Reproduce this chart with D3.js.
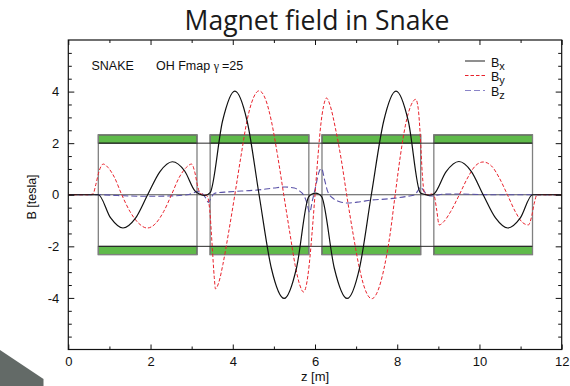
<!DOCTYPE html>
<html>
<head>
<meta charset="utf-8">
<script src="https://cdn.jsdelivr.net/npm/d3@7"></script>
<style>
  html, body { margin: 0; padding: 0; background: #fff; }
  svg { display: block; }
  text { font-family: "Liberation Sans", Arial, sans-serif; }
</style>
</head>
<body>
<svg id="chart" width="570" height="386"></svg>
<script>
// ---------------- data ----------------
const zBx = [0, 0.6, 0.73, 1.03, 1.33, 1.63, 1.93, 2.23, 2.53, 2.83, 3.08, 3.2, 3.32, 3.45, 3.75, 4.05, 4.35, 4.64, 4.94, 5.25,
             5.55, 5.84, 5.93, 6.01, 6.09, 6.17, 6.47, 6.78, 7.08, 7.37, 7.67, 7.97, 8.27, 8.56, 8.66, 8.78, 8.89, 9.19, 9.5, 9.8,
             10.09, 10.39, 10.69, 10.99, 11.29, 11.4, 12];
const bx  = [0, 0, 0, -0.9, -1.29, -0.92, 0, 0.9, 1.28, 0.92, 0.15, 0.02, -0.03, 0.08, 2.85, 4.02, 2.85, 0, -2.86, -4.02,
             -2.84, -0.1, 0.03, 0.06, 0.03, -0.1, -2.85, -4.02, -2.86, 0, 2.85, 4.02, 2.85, 0.08, 0.02, -0.02, 0.03, 0.9, 1.29, 0.91,
             0, -0.9, -1.29, -0.91, 0, 0, 0];

const zBy = [0, 0.5, 0.6, 0.67, 0.75, 0.85, 0.97, 1.12, 1.3, 1.5, 1.72, 1.92, 2.12, 2.32, 2.51, 2.7, 2.87, 3.0, 3.08, 3.15,
             3.21, 3.3, 3.38, 3.44, 3.5, 3.55, 3.58, 3.66, 3.76, 3.9, 4.05, 4.2, 4.35, 4.5, 4.64, 4.79, 4.94, 5.09, 5.24, 5.39,
             5.52, 5.63, 5.72, 5.79, 5.86, 5.93, 6.0, 6.07, 6.14, 6.21, 6.28, 6.37, 6.5, 6.64, 6.77, 6.93, 7.08, 7.23, 7.38, 7.53,
             7.68, 7.82, 7.95, 8.08, 8.2, 8.33, 8.45, 8.51, 8.56, 8.61, 8.66, 8.74, 8.83, 8.9, 8.96, 9.02, 9.14, 9.3, 9.51, 9.71,
             9.9, 10.09, 10.29, 10.48, 10.68, 10.88, 11.05, 11.19, 11.26, 11.33, 11.4, 11.5, 12];
const by  = [0, 0, 0.03, 0.4, 0.92, 1.19, 1.05, 0.68, 0, -0.65, -1.12, -1.29, -1.12, -0.65, 0, 0.68, 1.06, 1.19, 0.85, 0.3,
             0.05, 0, -0.05, -0.6, -2.0, -3.2, -3.65, -3.4, -2.7, -1.45, 0, 1.5, 2.9, 3.75, 4.03, 3.73, 2.85, 1.52, 0, -1.5,
             -2.75, -3.5, -3.77, -3.5, -2.7, -1.45, 0, 1.45, 2.7, 3.45, 3.75, 3.45, 2.55, 1.35, 0, -1.55, -2.85, -3.72, -4.03, -3.72,
             -2.85, -1.6, 0, 1.55, 2.7, 3.45, 3.7, 3.35, 2.3, 0.8, 0.08, 0, 0.03, -0.05, -0.6, -1.17, -1.03, -0.65, 0, 0.65,
             1.12, 1.27, 1.12, 0.66, 0, -0.68, -1.08, -1.17, -0.9, -0.35, 0, 0, 0];

const zBz = [0, 0.73, 1.2, 1.8, 2.4, 2.9, 3.05, 3.15, 3.25, 3.34, 3.41, 3.47, 3.56, 3.8, 4.05, 4.4, 4.71, 5.0, 5.27, 5.5,
             5.62, 5.72, 5.8, 5.87, 5.94, 6.02, 6.09, 6.16, 6.23, 6.31, 6.45, 6.6, 6.8, 7.1, 7.4, 7.7, 7.95, 8.25, 8.43, 8.5,
             8.57, 8.63, 8.7, 8.8, 8.9, 9.1, 9.5, 10.0, 10.5, 11.3, 12];
const bz  = [0, 0, -0.03, -0.06, -0.05, 0.0, 0.08, 0.12, 0.06, -0.12, -0.3, -0.12, 0.06, 0.1, 0.13, 0.16, 0.2, 0.26, 0.3, 0.26,
             0.15, 0.0, -0.3, -0.68, -0.2, 0.35, 0.85, 1.02, 0.6, 0.12, -0.15, -0.27, -0.32, -0.27, -0.2, -0.17, -0.13, -0.06, 0.0, 0.15,
             0.3, 0.18, 0.05, -0.05, -0.04, 0.02, 0.03, 0.01, 0, 0, 0];

const magnetStart = [0.73, 3.45, 6.17, 8.89];
const magnetEnd   = [3.13, 5.85, 8.57, 11.29];
const poleInner = 2.0, poleOuter = 2.32;

const xTickValues = [0, 2, 4, 6, 8, 10, 12];
const xMinorValues = [1, 3, 5, 7, 9, 11];
const yTickValues = [-4, -2, 0, 2, 4];
const yMinorValues = [-5.5, -5, -4.5, -3.5, -3, -2.5, -1.5, -1, -0.5, 0.5, 1, 1.5, 2.5, 3, 3.5, 4.5, 5, 5.5];

const seriesNames = ["x", "y", "z"];

// ---------------- chart ----------------
const svg = d3.select("#chart");
const x = d3.scaleLinear().domain([0, 12]).range([68.3, 561.7]);
const y = d3.scaleLinear().domain([-6, 6]).range([349.5, 40]);

// decorative gray shape bottom-left
svg.append("path")
  .attr("d", "M0,350 L43.5,379 L43.5,386 L0,386 Z")
  .attr("fill", "#636a67");

// title
const title = svg.append("text")
  .attr("x", 317).attr("y", 29.5)
  .attr("text-anchor", "middle")
  .style("font-family", "'Open Sans', 'Noto Sans', sans-serif")
  .style("font-size", "24px")
  .attr("fill", "#1a1a1a")
  .text("Magnet field in Snake");
const tw = title.node().getComputedTextLength();
title.style("font-size", Math.min(26.5, 24 * 288 / tw).toFixed(2) + "px");

// clip
svg.append("clipPath").attr("id", "plotclip")
  .append("rect").attr("x", x(0)).attr("y", y(6)).attr("width", x(12) - x(0)).attr("height", y(-6) - y(6));

const plot = svg.append("g").attr("clip-path", "url(#plotclip)");

// magnets
magnetStart.forEach((s, i) => {
  const e = magnetEnd[i];
  plot.append("rect")
    .attr("x", x(s)).attr("y", y(poleOuter))
    .attr("width", x(e) - x(s)).attr("height", y(poleInner) - y(poleOuter))
    .attr("fill", "#5fba4a").attr("stroke", "#1d2b19").attr("stroke-width", 1);
  plot.append("rect")
    .attr("x", x(s)).attr("y", y(-poleInner))
    .attr("width", x(e) - x(s)).attr("height", y(-poleOuter) - y(-poleInner))
    .attr("fill", "#5fba4a").attr("stroke", "#1d2b19").attr("stroke-width", 1);
  plot.append("rect")
    .attr("x", x(s)).attr("y", y(poleOuter))
    .attr("width", x(e) - x(s)).attr("height", y(-poleOuter) - y(poleOuter))
    .attr("fill", "none").attr("stroke", "#808080").attr("stroke-width", 1.3);
});
[poleInner, -poleInner].forEach(v => {
  plot.append("line")
    .attr("x1", x(magnetStart[0])).attr("x2", x(magnetEnd[3]))
    .attr("y1", y(v)).attr("y2", y(v))
    .attr("stroke", "#2a2a2a").attr("stroke-width", 1);
});
plot.append("line")
  .attr("x1", x(0)).attr("x2", x(12)).attr("y1", y(0)).attr("y2", y(0))
  .attr("stroke", "#555").attr("stroke-width", 1.2);

// curves
const line = d3.line().x(d => x(d[0])).y(d => y(d[1])).curve(d3.curveMonotoneX);
const styles = [
  { z: zBz, v: bz, color: "#5a52a8", dash: "6,3", width: 1.1, legendColor: "#8a84c8" },
  { z: zBy, v: by, color: "#e8222c", dash: "3.5,2", width: 1.0, legendColor: "#e8222c" },
  { z: zBx, v: bx, color: "#111", dash: null, width: 1.2, legendColor: "#444" }
];
styles.forEach(s => {
  const pts = s.z.map((zz, i) => [zz, s.v[i]]);
  plot.append("path")
    .attr("d", line(pts))
    .attr("fill", "none")
    .attr("stroke", s.color)
    .attr("stroke-width", s.width)
    .attr("stroke-dasharray", s.dash);
});

// frame
svg.append("rect")
  .attr("x", x(0)).attr("y", y(6)).attr("width", x(12) - x(0)).attr("height", y(-6) - y(6))
  .attr("fill", "none").attr("stroke", "#111").attr("stroke-width", 1.2);

// axes (inward ticks, mirrored)
const fmt = d => String(d);
function styleAxis(g) {
  g.select(".domain").remove();
  g.selectAll(".tick line").attr("stroke", "#111").attr("stroke-width", 1);
  g.selectAll(".tick text").style("font-family", "'Liberation Sans', Arial, sans-serif").style("font-size", "13px").attr("fill", "#111");
}
svg.append("g").attr("transform", `translate(0,${y(-6)})`)
  .call(d3.axisBottom(x).tickValues(xTickValues).tickSize(-5).tickPadding(7).tickFormat(fmt)).call(styleAxis);
svg.append("g").attr("transform", `translate(0,${y(-6)})`)
  .call(d3.axisBottom(x).tickValues(xMinorValues).tickSize(-3).tickFormat("")).call(styleAxis);
svg.append("g").attr("transform", `translate(0,${y(6)})`)
  .call(d3.axisTop(x).tickValues(xTickValues).tickSize(-5).tickFormat("")).call(styleAxis);
svg.append("g").attr("transform", `translate(0,${y(6)})`)
  .call(d3.axisTop(x).tickValues(xMinorValues).tickSize(-3).tickFormat("")).call(styleAxis);

svg.append("g").attr("transform", `translate(${x(0)},0)`)
  .call(d3.axisLeft(y).tickValues(yTickValues).tickSize(-6).tickPadding(9).tickFormat(fmt)).call(styleAxis);
svg.append("g").attr("transform", `translate(${x(0)},0)`)
  .call(d3.axisLeft(y).tickValues(yMinorValues).tickSize(-3.5).tickFormat("")).call(styleAxis);
svg.append("g").attr("transform", `translate(${x(12)},0)`)
  .call(d3.axisRight(y).tickValues(yTickValues).tickSize(-6).tickFormat("")).call(styleAxis);
svg.append("g").attr("transform", `translate(${x(12)},0)`)
  .call(d3.axisRight(y).tickValues(yMinorValues).tickSize(-3.5).tickFormat("")).call(styleAxis);

// axis labels
svg.append("text")
  .attr("x", x(6)).attr("y", 381)
  .attr("text-anchor", "middle")
  .style("font-size", "13px").attr("fill", "#111")
  .text("z [m]");
svg.append("text")
  .attr("transform", "translate(36,197) rotate(-90)")
  .attr("text-anchor", "middle")
  .style("font-size", "12.5px").attr("fill", "#111")
  .text("B [tesla]");

// annotation
svg.append("text").attr("x", 91.5).attr("y", 69.5).style("font-size", "12.5px").attr("fill", "#111").text("SNAKE");
const ann = svg.append("text").attr("x", 156).attr("y", 69.5).style("font-size", "12.5px").attr("fill", "#111");
ann.append("tspan").text("OH Fmap ");
ann.append("tspan").style("font-family", "'Liberation Serif', 'DejaVu Serif', serif").style("font-size", "12px").text("γ");
ann.append("tspan").attr("dx", 3).text("=25");

// legend
const legendRows = [61, 75.5, 90.5];
[styles[2], styles[1], styles[0]].forEach((s, i) => {
  const ly = legendRows[i];
  svg.append("line")
    .attr("x1", 465).attr("x2", 485).attr("y1", ly).attr("y2", ly)
    .attr("stroke", s.legendColor).attr("stroke-width", 1.2)
    .attr("stroke-dasharray", s.dash);
  const t = svg.append("text").attr("x", 491).attr("y", ly + 5.5)
    .style("font-size", "12.5px").attr("fill", "#111");
  t.append("tspan").text("B");
  t.append("tspan").attr("dy", 3).style("font-size", "11px").text(seriesNames[i]);
});
</script>
</body>
</html>
